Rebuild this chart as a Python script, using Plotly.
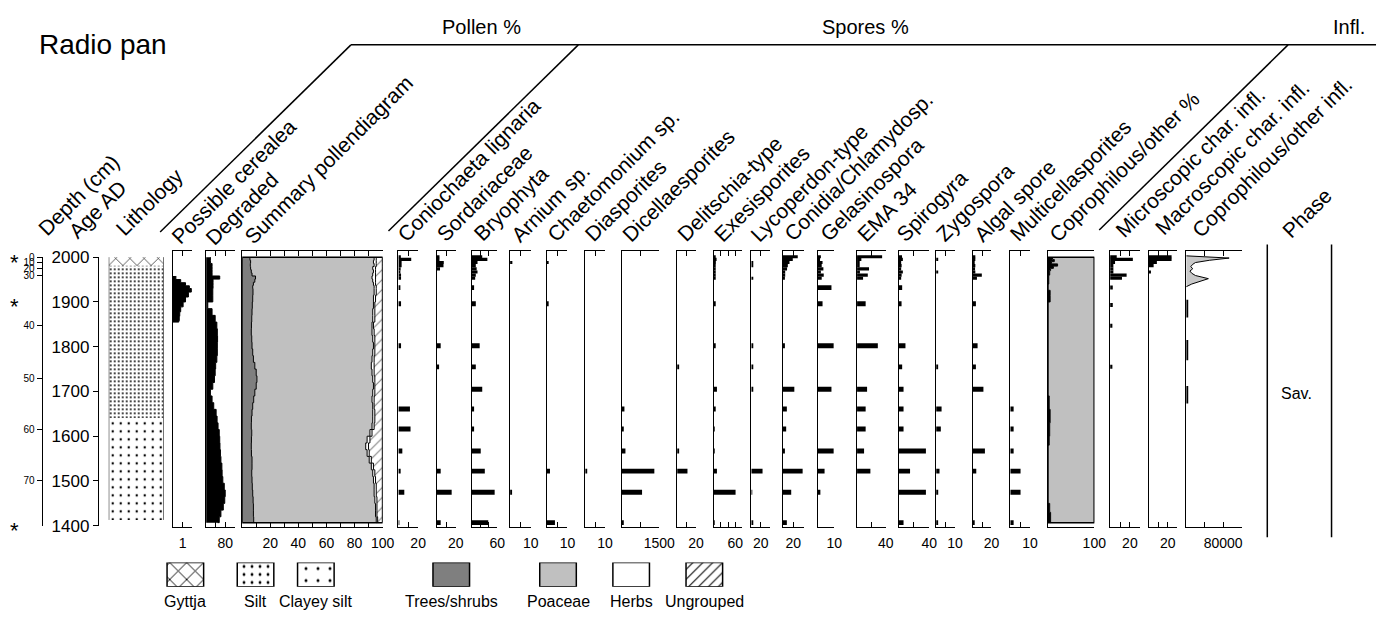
import plotly.graph_objects as go

# ---------------- data ----------------
# age-depth model and dated levels
depth_cm = [0, 10, 20, 30, 40, 50, 60, 70]
depth_age = [2000, 1987.7, 1974, 1959, 1847, 1730, 1614, 1500]
dated_age = [2000, 1900, 1400]
age_ticks = [2000, 1900, 1800, 1700, 1600, 1500, 1400]

# lithology units
lith_names = ["Gyttja", "Silt", "Clayey silt"]
lith_top = [2000, 1981, 1640]
lith_bottom = [1981, 1640, 1413]

# pollen samples
pollen_age = [2000, 1993, 1986, 1979, 1972, 1965, 1958, 1951, 1944, 1937, 1930, 1915,
              1900, 1885, 1870, 1855, 1840, 1825, 1810, 1795, 1780, 1765, 1750, 1735,
              1720, 1705, 1690, 1675, 1660, 1645, 1630, 1615, 1600, 1585, 1570, 1555,
              1540, 1525, 1510, 1495, 1480, 1465, 1450, 1435, 1420, 1407]
degraded = [18, 18, 25, 25, 25, 25, 57, 29, 29, 29, 28, 28,
            7, 25, 38, 45, 47, 48, 47, 47, 45, 40, 38, 35,
            28, 18, 25, 32, 42, 46, 50, 55, 57, 58, 60, 62,
            66, 67, 70, 76, 80, 78, 72, 62, 55, 48]
trees = [5.5, 6, 5.8, 6, 6.5, 7, 9.5, 9, 8, 7.5, 7.7, 7.5,
         7.2, 7, 6.8, 6.6, 6.5, 6.8, 7, 7.5, 8, 9, 10, 10.5,
         10, 9, 8.2, 7.5, 7, 6.6, 6.5, 6.8, 6.6, 6.5, 6.6, 7,
         7, 6.8, 7, 7.2, 7.5, 7.8, 8, 8, 8.2, 8.5]
poaceae = [88.5, 87.5, 88.2, 87, 87, 86, 83, 84, 85.5, 86.5, 86.3, 86,
           86.3, 86, 86.2, 85.9, 86, 86.2, 86.5, 85.5, 84.5, 83, 82.5, 82.5,
           83.5, 84, 84.3, 85.5, 86, 86.4, 86, 84.2, 82.4, 81.5, 82.4, 83.5,
           85, 86.2, 86.5, 86.8, 86.5, 86.7, 87, 87, 87.3, 87.5]
herbs = [1.5, 2, 1.5, 2, 1.5, 2, 2.5, 2, 1.5, 1.5, 1.5, 1.5,
         1, 1.5, 1.5, 1, 1.5, 1.5, 1, 1.5, 1.5, 2, 1.5, 1.5,
         1, 1.5, 1.5, 1, 1.5, 1.5, 1.5, 1.5, 2, 2, 1.5, 1.5,
         1.5, 1.5, 1.5, 1.5, 1.5, 1.5, 1, 1, 1, 1]

cerealea_age = [1958, 1950, 1943, 1936, 1930, 1922, 1911, 1900, 1889, 1878, 1868, 1858, 1855]
cerealea = [0.3, 0.8, 1.3, 1.7, 1.9, 1.6, 1.3, 1.05, 0.8, 0.7, 0.65, 0.6, 0]

# spore samples
spore_age = [2001, 1995, 1988, 1981, 1974, 1967, 1960, 1953, 1932, 1896,
             1802, 1755, 1705, 1661, 1616, 1567, 1522, 1475, 1407]
coniochaeta = [2.5, 13, 3.3, 3.3, 2.3, 1.5, 2.7, 2.7, 2, 2.7, 2.7, 0, 0, 11.7, 12.3, 4, 2.3, 6, 1]
sordariaceae = [2.7, 2.7, 7.3, 7, 3.3, 0, 0, 0, 0, 0, 4, 2.3, 0, 0, 0, 0, 4, 15.7, 4]
bryophyta = [25, 37, 14, 10, 12, 14, 10, 8.5, 6, 10, 19, 10, 25, 6, 6, 21.5, 31, 54, 39]
arnium = [0, 0, 1.1, 0, 0, 0, 0, 0, 0, 0, 0, 0, 0, 0, 0, 0, 0, 0.6, 0]
chaetomium = [0, 0, 0.8, 0, 0, 0, 0, 0, 0, 0.6, 0, 0, 0, 0, 0, 0, 1.6, 0, 4]
diasporites = [0, 0, 0, 0, 0, 0, 0, 0, 0, 0, 0, 0, 0, 0, 0, 0, 0.8, 0, 0]
dicellaesporites = [0, 0, 0, 0, 0, 0, 0, 0, 0, 0, 0, 0, 0, 106, 66, 146, 1300, 810, 66]
delitschia = [0, 0, 0, 0, 0, 0, 0, 0, 0, 0, 0, 1.8, 0, 0, 0, 1.8, 11, 0, 0]
exesisporites = [4, 8, 6, 5, 5, 4, 4, 3, 0, 4.5, 4.5, 0, 9, 4.5, 2.7, 2.7, 9, 61, 2.7]
lycoperdon = [0, 0, 3.4, 3.4, 0, 0, 0, 3.4, 0, 0, 3.4, 3.4, 3.4, 0, 0, 0, 24, 1.5, 3.4]
conidia = [28.6, 19, 12.7, 9.5, 8, 4.4, 4.4, 3, 0, 0, 3, 0, 22, 7.6, 6.3, 3, 38, 16, 7.6]
gelasinospora = [2, 1.5, 3, 2.5, 3.5, 2, 3.7, 2.5, 8.3, 3, 9.6, 0, 8.3, 0, 0, 9.6, 4.2, 1.7, 0]
ema34 = [35, 6, 3.7, 3.7, 16.7, 4, 15, 8.4, 0, 12, 29, 0, 14, 12, 12, 9.8, 18.6, 0, 0]
spirogyra = [4.5, 5.6, 3.4, 4, 3.4, 5.6, 4, 3.4, 4.7, 3.9, 9, 4.7, 6.5, 6.5, 6.5, 35.7, 15, 35.7, 6.5]
zygospora = [0, 1.1, 0, 0, 0, 1.1, 0, 0, 0, 0, 0, 0.9, 0, 2.9, 2.5, 0, 1.8, 1.1, 0.9]
algal = [2.8, 2.8, 2.0, 2.8, 2.5, 2.8, 9.7, 4.5, 0, 3.4, 5.2, 3.4, 11.4, 0, 0, 13, 3.8, 0, 1.7]
multicell = [0, 0, 0, 0, 0, 0, 0, 0, 0, 0, 0, 0, 0, 1.7, 1.7, 1.7, 5.2, 5.2, 1.7]

copro_age = [2000, 1995, 1990, 1985, 1980, 1975, 1970, 1960, 1940, 1926, 1915, 1900,
             1700, 1690, 1660, 1630, 1600, 1580, 1460, 1450, 1430, 1407]
copro_pct = [10, 14, 8, 21, 12, 6, 4, 2, 0, 5, 5, 0, 0, 3, 5, 4, 3, 0, 0, 4, 6, 5]

# charcoal and influx
char_age = [2001, 1995, 1988, 1981, 1974, 1967, 1960, 1953, 1932, 1893, 1847, 1755]
micro_char = [6.7, 23, 5, 3.3, 3.3, 3.3, 16.7, 12, 2.7, 2.7, 2.3, 2.3]
macro_char = [24, 24, 8.6, 5.2, 0, 2.4, 0, 0, 0, 0, 0, 0]
other_infl_age = [2003, 1998, 1993, 1988, 1984, 1979, 1974, 1969, 1964, 1959, 1952, 1946, 1940, 1934]
other_infl = [0, 93000, 50000, 20000, 14000, 10000, 14000, 8000, 12000, 20000, 48000, 30000, 12000, 0]
copro_infl_top = [1905, 1815, 1712]
copro_infl_bottom = [1865, 1770, 1673]
copro_infl = [4000, 4000, 4000]

phase_name = "Sav."

# ---------------- layout helpers ----------------
W, H = 1394, 621
FONT = "Arial, Liberation Sans, sans-serif"
AGE_RANGE = [1398, 2013]
LABEL_SIZE = 21


def px(x):
    return x / W


def py(y):
    return 1 - y / H


YDOM = [py(534), py(250)]

fig = go.Figure()
layout = {}
shapes = []
annotations = []
counter = [0]


def text(x, y, s, size, xanchor='center', yanchor='middle', **kw):
    annotations.append(dict(x=px(x), y=py(y), xref='paper', yref='paper', text=s, showarrow=False,
                            xanchor=xanchor, yanchor=yanchor,
                            font=dict(size=size, color='black', family=FONT), **kw))


def new_axes(left, right, xmax, tickvals=None, ticktext=None, visible=True,
             ydom=None, yrange=None, yline=True):
    counter[0] += 1
    i = counter[0]
    s = '' if i == 1 else str(i)
    xa = dict(domain=[px(left), px(right)], range=[0, xmax], anchor='y' + s,
              fixedrange=True, showgrid=False, zeroline=False)
    if visible:
        xa.update(showline=True, linecolor='black', linewidth=1, mirror='ticks',
                  ticks='inside', ticklen=5, tickwidth=1, tickcolor='black',
                  tickmode='array', tickvals=tickvals, ticktext=ticktext,
                  tickfont=dict(size=14, color='black', family=FONT),
                  ticklabelstandoff=4)
    else:
        xa.update(visible=False)
    ya = dict(domain=ydom or YDOM, range=yrange or AGE_RANGE, anchor='x' + s,
              showgrid=False, zeroline=False, showticklabels=False, ticks='',
              fixedrange=True, showline=yline, linecolor='black', linewidth=1)
    layout['xaxis' + s] = xa
    layout['yaxis' + s] = ya
    return 'x' + s, 'y' + s


def label_ticks(vals, shown):
    return [str(v) if v in shown else '' for v in vals]


def bars(xr, yr, ages, vals, thick):
    fig.add_trace(go.Bar(x=vals, y=ages, width=thick, orientation='h', base=0,
                         marker=dict(color='black', line=dict(width=0)),
                         xaxis=xr, yaxis=yr, hoverinfo='skip', showlegend=False))


def step_area(xr, yr, ages, vals, fill='tozerox', color='black', shape='vh'):
    fig.add_trace(go.Scatter(x=vals, y=ages, mode='lines', line=dict(color='black', width=1, shape=shape),
                             fill=fill, fillcolor=color, xaxis=xr, yaxis=yr,
                             hoverinfo='skip', showlegend=False))


# ---------------- depth and age axes ----------------
xr, yr = new_axes(43, 44, 1, visible=False, ydom=[py(533), py(256)], yrange=[1400, 2000])
layout['yaxis' + yr[1:]].update(showticklabels=True, ticks='outside', ticklen=5, tickcolor='black',
                                tickmode='array', tickvals=depth_age,
                                ticktext=[str(d) for d in depth_cm],
                                tickfont=dict(size=10, color='black', family=FONT))
fig.add_trace(go.Scatter(x=[], y=[], xaxis=xr, yaxis=yr, showlegend=False))
for a in dated_age:
    annotations.append(dict(x=px(15), xref='paper', y=a, yref=yr, text='*', showarrow=False,
                            xanchor='center', yanchor='middle',
                            font=dict(size=22, color='black', family=FONT), yshift=-5))

xr, yr = new_axes(100, 101, 1, visible=False, ydom=[py(533), py(256)], yrange=[1400, 2000])
layout['yaxis' + yr[1:]].update(showticklabels=True, ticks='outside', ticklen=5, tickcolor='black',
                                tickmode='array', tickvals=age_ticks,
                                tickfont=dict(size=17, color='black', family=FONT))
fig.add_trace(go.Scatter(x=[], y=[], xaxis=xr, yaxis=yr, showlegend=False))

# ---------------- lithology ----------------
xr, yr = new_axes(110, 165.5, 1, visible=False, yline=False)
lith_style = {"Gyttja": ('x', 10, 0.12), "Silt": ('.', 4, 0.18), "Clayey silt": ('.', 8, 0.07)}
fig.add_trace(go.Bar(
    x=[1] * len(lith_names), y=[(t + b) / 2 for t, b in zip(lith_top, lith_bottom)],
    width=[t - b for t, b in zip(lith_top, lith_bottom)], orientation='h', base=0,
    marker=dict(color='white', line=dict(width=0),
                pattern=dict(shape=[lith_style[n][0] for n in lith_names],
                             size=[lith_style[n][1] for n in lith_names],
                             solidity=[lith_style[n][2] for n in lith_names],
                             fgcolor='black', bgcolor='white', fillmode='replace')),
    xaxis=xr, yaxis=yr, hoverinfo='skip', showlegend=False))
for xv in (0, 1):
    shapes.append(dict(type='line', xref=xr, yref=yr, x0=xv, x1=xv,
                       y0=min(lith_bottom), y1=max(lith_top), line=dict(color='black', width=1)))

# ---------------- pollen ----------------
xr, yr = new_axes(175, 194.5, 2, [0, 1, 2], label_ticks([0, 1, 2], [1]))
step_area(xr, yr, cerealea_age, cerealea)

xr, yr = new_axes(208.5, 237.5, 120, [0, 40, 80, 120], label_ticks([0, 40, 80, 120], [80]))
step_area(xr, yr, pollen_age, degraded)

sum_ticks = list(range(0, 101, 10))
xr, yr = new_axes(245, 387, 100, sum_ticks, label_ticks(sum_ticks, [20, 40, 60, 80, 100]))
cum1 = trees
cum2 = [a + b for a, b in zip(cum1, poaceae)]
cum3 = [a + b for a, b in zip(cum2, herbs)]
step_area(xr, yr, pollen_age, cum1, 'tozerox', '#7f7f7f')
step_area(xr, yr, pollen_age, cum2, 'tonextx', '#c0c0c0')
step_area(xr, yr, pollen_age, cum3, 'tonextx', 'white')
fig.add_trace(go.Scatter(x=[100] * len(pollen_age), y=pollen_age, mode='lines',
                         line=dict(color='black', width=1, shape='vh'), fill='tonextx',
                         fillcolor='white',
                         fillpattern=dict(shape='/', fgcolor='black', bgcolor='white', size=7, solidity=0.15),
                         xaxis=xr, yaxis=yr, hoverinfo='skip', showlegend=False))
shapes.append(dict(type='rect', xref=xr, yref=yr, x0=0, x1=100, y0=min(pollen_age), y1=max(pollen_age),
                   line=dict(color='black', width=1.5)))

# ---------------- spores ----------------
thick = [7 if a > 1950 else 11 for a in spore_age]
spore_panels = [
    (coniochaeta, 403, 423, 20, [0, 10, 20], [20]),
    (sordariaceae, 442, 461, 20, [0, 10, 20], [20]),
    (bryophyta, 477, 503, 60, [0, 20, 40, 60], [60]),
    (arnium, 516, 537, 10, [0, 5, 10], [10]),
    (chaetomium, 553, 574, 10, [0, 5, 10], [10]),
    (diasporites, 592, 612, 10, [0, 5, 10], [10]),
    (dicellaesporites, 629, 667, 1500, [0, 750, 1500], [1500]),
    (delitschia, 685, 704, 20, [0, 10, 20], [20]),
    (exesisporites, 722, 751, 80, [0, 20, 40, 60, 80], [60]),
    (lycoperdon, 760, 779, 40, [0, 20, 40], [20]),
    (conidia, 792, 813, 40, [0, 20, 40], [20]),
    (gelasinospora, 827, 844, 10, [0, 10], [10]),
    (ema34, 867, 896, 40, [0, 20, 40], [40]),
    (spirogyra, 909, 940, 40, [0, 20, 40], [40]),
    (zygospora, 947, 966, 10, [0, 5, 10], [10]),
    (algal, 984, 1003, 20, [0, 10, 20], [20]),
    (multicell, 1022, 1042, 10, [0, 5, 10], [10]),
]
for vals, l, r, mx, tv, shown in spore_panels:
    xr, yr = new_axes(l, r, mx, tv, label_ticks(tv, shown))
    bars(xr, yr, spore_age, vals, thick)

xr, yr = new_axes(1060, 1107, 100, [0, 100], ['', '100'])
step_area(xr, yr, copro_age, copro_pct, 'tozerox', 'black')
fig.add_trace(go.Scatter(x=[100] * len(copro_age), y=copro_age, mode='lines',
                         line=dict(color='black', width=1), fill='tonextx', fillcolor='#c0c0c0',
                         xaxis=xr, yaxis=yr, hoverinfo='skip', showlegend=False))
shapes.append(dict(type='rect', xref=xr, yref=yr, x0=0, x1=100, y0=min(copro_age), y1=max(copro_age),
                   line=dict(color='black', width=1.5)))

# ---------------- influx ----------------
char_thick = [7 if a > 1950 else 9 for a in char_age]
xr, yr = new_axes(1123, 1153, 30, [0, 10, 20, 30], ['', '', '20', ''])
bars(xr, yr, char_age, micro_char, char_thick)
xr, yr = new_axes(1162, 1191, 30, [0, 10, 20, 30], ['', '', '20', ''])
bars(xr, yr, char_age, macro_char, char_thick)
xr, yr = new_axes(1200, 1256, 120000, [0, 40000, 80000, 120000], ['', '', '80000', ''])
fig.add_trace(go.Scatter(x=other_infl, y=other_infl_age, mode='lines', line=dict(color='black', width=1),
                         fill='tozerox', fillcolor='#c8c8c8', xaxis=xr, yaxis=yr,
                         hoverinfo='skip', showlegend=False))
bars(xr, yr, [(t + b) / 2 for t, b in zip(copro_infl_top, copro_infl_bottom)], copro_infl,
     [t - b for t, b in zip(copro_infl_top, copro_infl_bottom)])

# ---------------- phase column ----------------
for xv in (1282, 1347):
    shapes.append(dict(type='line', xref='paper', yref='paper', x0=px(xv), x1=px(xv),
                       y0=py(545), y1=py(243), line=dict(color='black', width=1.5)))
text(1312, 397, phase_name, 16)

# ---------------- header ----------------
text(37, 37, 'Radio pan', 28, xanchor='left')
for txt, xc in (('Pollen %', 487), ('Spores %', 876), ('Infl.', 1365)):
    text(xc, 19, txt, 20)
for x0, y0, x1, y1 in ((355, 37, 1392, 37), (355, 37, 162, 230), (585, 37, 393, 229), (1303, 37, 1112, 228)):
    shapes.append(dict(type='line', xref='paper', yref='paper', x0=px(x0), y0=py(y0), x1=px(x1), y1=py(y1),
                       line=dict(color='black', width=1.5)))

col_labels = [
    ('Depth (cm)', 38, 241), ('Age AD', 68, 244), ('Lithology', 116, 241),
    ('Possible cerealea', 172, 250), ('Degraded', 207, 251), ('Summary pollendiagram', 246, 250),
    ('Coniochaeta lignaria', 401, 247), ('Sordariaceae', 440, 247), ('Bryophyta', 478, 247),
    ('Arnium sp.', 516, 247), ('Chaetomonium sp.', 552, 247), ('Diasporites', 590, 247),
    ('Dicellaesporites', 628, 247), ('Delitschia-type', 684, 247), ('Exesisporites', 721, 247),
    ('Lycoperdon-type', 758, 247), ('Conidia/Chlamydosp.', 792, 247), ('Gelasinospora', 828, 247),
    ('EMA 34', 866, 247), ('Spirogyra', 906, 247), ('Zygospora', 945, 247), ('Algal spore', 984, 247),
    ('Multicellasporites', 1020, 247), ('Coprophilous/other %', 1060, 247),
    ('Microscopic char. infl.', 1127, 243), ('Macroscopic char. infl.', 1167, 240),
    ('Coprophilous/other infl.', 1204, 243), ('Phase', 1296, 243),
]
for txt, xs, yb in col_labels:
    text(xs - 6, yb, txt, LABEL_SIZE, xanchor='left', yanchor='bottom', textangle=-45)

# ---------------- key ----------------
key_names = ['Gyttja', 'Silt', 'Clayey silt', 'Trees/shrubs', 'Poaceae', 'Herbs', 'Ungrouped']
key_left = [169, 240, 301, 438, 546, 620, 694]
key_w = 37
key_pattern = ['x', '.', '.', '', '', '', '/']
key_psize = [12, 8, 12, 8, 8, 8, 7]
key_solid = [0.15, 0.1, 0.05, 0.2, 0.2, 0.2, 0.15]
key_color = ['white', 'white', 'white', '#7f7f7f', '#c0c0c0', 'white', 'white']
xr, yr = new_axes(0, W, W, visible=False, ydom=[py(596), py(571)], yrange=[0, 1], yline=False)
layout['xaxis' + xr[1:]]['range'] = [0, W]
for name, l, pat, ps, sol, col in zip(key_names, key_left, key_pattern, key_psize, key_solid, key_color):
    marker = dict(color=col, line=dict(color='black', width=1.5))
    if pat:
        marker['pattern'] = dict(shape=pat, size=ps, solidity=sol, fgcolor='black', bgcolor=col,
                                 fillmode='replace')
    fig.add_trace(go.Bar(x=[l + key_w / 2], y=[1], base=0, width=key_w, marker=marker,
                         xaxis=xr, yaxis=yr, hoverinfo='skip', showlegend=False))
    text(l + key_w / 2, 611, name, 16)

fig.update_layout(**layout)
fig.update_layout(width=W, height=H, margin=dict(l=0, r=0, t=0, b=0), paper_bgcolor='white',
                  plot_bgcolor='rgba(0,0,0,0)', barmode='overlay', showlegend=False,
                  shapes=shapes, annotations=annotations, font=dict(family=FONT, color='black'))
fig.write_html("out.html")
